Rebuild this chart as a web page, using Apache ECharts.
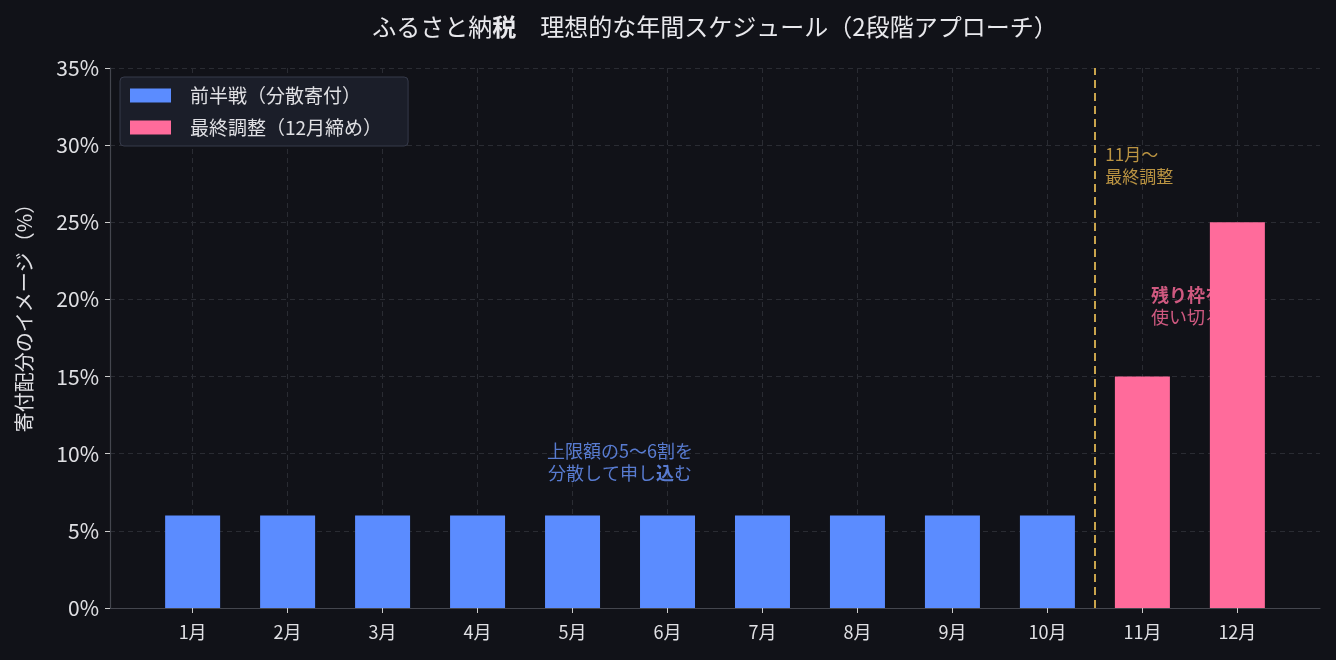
<!DOCTYPE html>
<html><head><meta charset="utf-8">
<script src="https://cdn.jsdelivr.net/npm/echarts@6/dist/echarts.min.js"></script>
<style>html,body{margin:0;padding:0;background:#111218;}#c{width:1336px;height:660px;}</style>
</head><body><div id="c"></div>
<script>
const months = ['1月','2月','3月','4月','5月','6月','7月','8月','9月','10月','11月','12月'];
const firstHalf = [6,6,6,6,6,6,6,6,6,6];   // 1月〜10月
const finalAdj = [15,25];                   // 11月, 12月
const yTicks = [0,5,10,15,20,25,30,35];

const FONT = '"Noto Sans CJK JP", "Noto Sans", sans-serif';
const blue = '#5b8cff', pink = '#ff6b9b', gold = '#e6b54e';
const idx = months.map((m,i)=>i);

const blueData = firstHalf.map((v,i)=>[i,v]);
const pinkData = finalAdj.map((v,i)=>[firstHalf.length+i,v]);

const chart = echarts.init(document.getElementById('c'));
chart.setOption({
  backgroundColor:'#111218',
  animation:false,
  textStyle:{fontFamily:FONT},
  title:{
    text:'ふるさと納{b|税}　理想的な年間スケジュール（2段階アプローチ）',
    left:710, top:10, textAlign:'center',
    textStyle:{color:'#e8e8ec',fontSize:24,fontWeight:'normal',fontFamily:FONT,
      rich:{b:{fontSize:24,fontWeight:'bold',color:'#e8e8ec',fontFamily:FONT}}}
  },
  legend:{
    left:120, top:77, orient:'vertical',
    backgroundColor:'#1b1e29', borderColor:'#363a4a', borderWidth:1, borderRadius:4,
    padding:[9,26,9,10], itemGap:13, itemWidth:41, itemHeight:14, icon:'rect',
    textStyle:{color:'#e0e0e4',fontSize:19,fontFamily:FONT,padding:[0,0,0,14]},
    data:['前半戦（分散寄付）','最終調整（12月締め）']
  },
  grid:{left:110,right:16,top:68,bottom:52,containLabel:false},
  xAxis:{
    type:'value', min:-0.87, max:11.87,
    axisLine:{show:true,onZero:false,lineStyle:{color:'#44464e',width:1.2}},
    axisTick:{show:true,customValues:idx,length:5,lineStyle:{color:'#cccccc'}},
    axisLabel:{customValues:idx,color:'#e0e0e4',fontSize:18,margin:15,
      formatter:v=>months[Math.round(v)]||''},
    splitLine:{show:true,customValues:idx,lineStyle:{color:'#2a2c33',type:[5,4]}}
  },
  yAxis:{
    type:'value', min:0, max:35, interval:5,
    name:'寄付配分のイメージ（%）', nameLocation:'middle', nameGap:76, nameRotate:90,
    nameTextStyle:{color:'#e0e0e4',fontSize:20,fontFamily:FONT,padding:[0,0,0,50]},
    axisLine:{show:true,onZero:false,lineStyle:{color:'#44464e',width:1.2}},
    axisTick:{show:true,length:5,lineStyle:{color:'#cccccc'}},
    axisLabel:{color:'#e0e0e4',fontSize:21,margin:11,formatter:'{value}%'},
    splitLine:{show:true,lineStyle:{color:'#2a2c33',type:[5,4]}}
  },
  series:[
    {name:'前半戦（分散寄付）',type:'bar',stack:'s',barWidth:55,z:2,
     itemStyle:{color:blue},data:blueData,
     markLine:{silent:true,symbol:'none',label:{show:false},
       lineStyle:{color:'#c9a44c',type:[8,5],width:2},data:[{xAxis:9.5}]}},
    {name:'最終調整（12月締め）',type:'bar',stack:'s',barWidth:55,z:2,
     itemStyle:{color:pink},data:pinkData},
    {type:'scatter',symbolSize:0,z:1,silent:true,data:[[10.47,21.0]],
     label:{show:true,position:[0,0],align:'center',verticalAlign:'top',
       formatter:'{a|残り枠を}\n{c|使い切る}',
       rich:{a:{color:pink,fontSize:18,fontWeight:'bold',lineHeight:22,fontFamily:FONT},
             c:{color:pink,fontSize:18,lineHeight:22,fontFamily:FONT}}}},
    {type:'scatter',symbolSize:0,z:3,silent:true,data:[[9.61,30.1]],
     label:{show:true,position:[0,0],align:'left',verticalAlign:'top',
       formatter:'{a|11月～}\n{a|最終調整}',
       rich:{a:{color:gold,fontSize:17,lineHeight:22,fontFamily:FONT}}}},
    {type:'scatter',symbolSize:0,z:3,silent:true,data:[[4.5,10.9]],
     label:{show:true,position:[0,0],align:'center',verticalAlign:'top',
       formatter:'{a|上限額の5～6割を}\n{a|分散して申し}{b|込}{a|む}',
       rich:{a:{color:'#6a96ff',fontSize:18,lineHeight:22,fontFamily:FONT},
             b:{color:'#6a96ff',fontSize:18,lineHeight:22,fontWeight:'bold',fontFamily:FONT}}}}
  ]
});
</script></body></html>
